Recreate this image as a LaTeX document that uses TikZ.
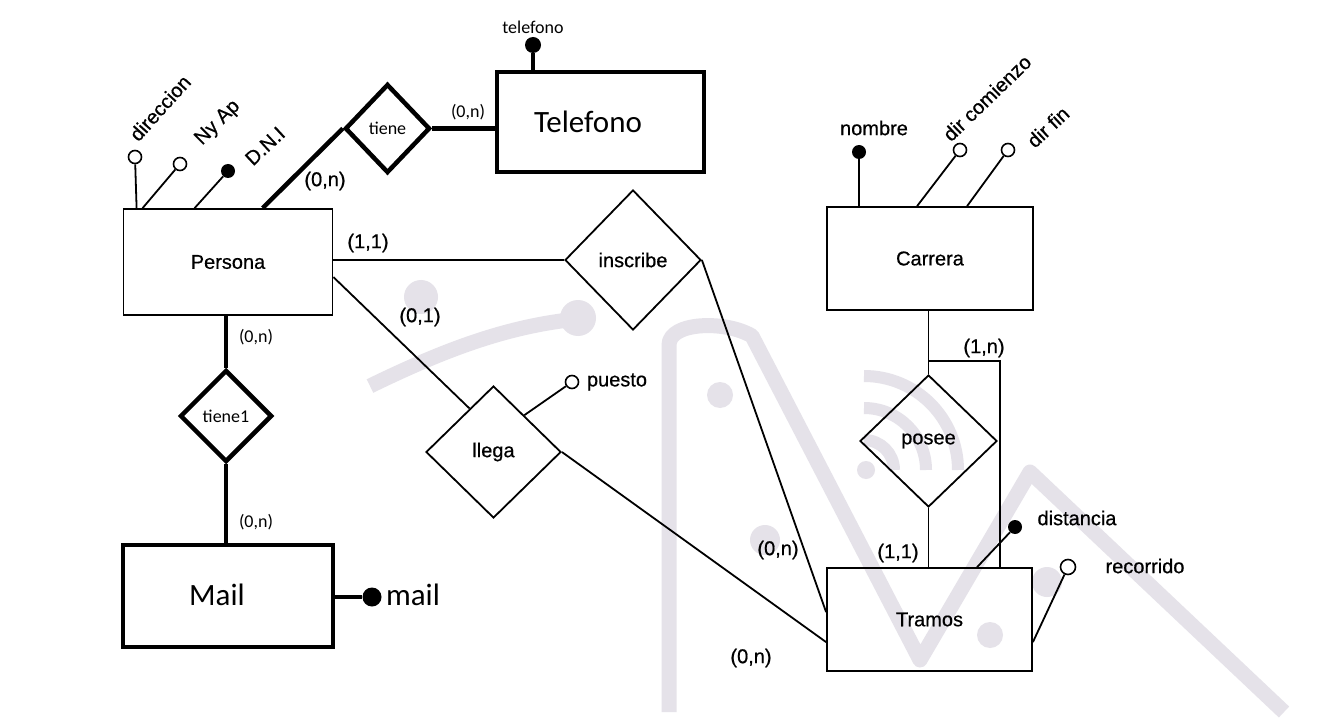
\documentclass[tikz,border=0pt]{standalone}
\usepackage{fontspec}
\setmainfont{Liberation Sans}
\newfontfamily\scanfont{Liberation Sans}[FakeBold=0.6]
\newfontfamily\calib{Carlito}
\usetikzlibrary{shapes.geometric,calc}
\definecolor{wm}{RGB}{229,226,233}
\begin{document}
\begin{tikzpicture}[x=1pt,y=-1pt,
  thin ln/.style={line width=1.8pt},
  thick ln/.style={line width=4.5pt},
  ent/.style={draw,thin ln,rectangle,inner sep=0pt,font=\scanfont\fontsize{20}{23}\selectfont},
  entb/.style={draw,thick ln,rectangle,inner sep=0pt},
  rel/.style={draw,thin ln,diamond,aspect=1,inner sep=0pt,font=\scanfont\fontsize{20}{23}\selectfont},
  relb/.style={draw,thick ln,diamond,aspect=1,inner sep=0pt,font=\calib\fontsize{18}{22}\selectfont},
  ocirc/.style={circle,draw,line width=1.6pt,fill=white,minimum size=13pt,inner sep=0pt},
  kdot/.style={circle,fill=black,minimum size=14pt,inner sep=0pt},
  lbl/.style={font=\scanfont\fontsize{20}{23}\selectfont,inner sep=0pt},
  clbl/.style={font=\calib\fontsize{18}{22}\selectfont,inner sep=0pt},
  biglbl/.style={font=\calib\fontsize{31}{36}\selectfont,inner sep=0pt},
  wmline/.style={draw=wm,line width=15pt},
]
\useasboundingbox (0,0) rectangle (1338,727);
\fill[white] (0,0) rectangle (1338,727);

% faint watermark
\draw[wmline] (370,386) .. controls (440,352) and (505,326) .. (578,319);
\fill[wm] (578,318) circle[radius=18pt];
\fill[wm] (421,297) circle[radius=17pt];
\draw[wmline,line join=round] (669,712) -- (669,345) .. controls (669,322) and (725,320) .. (752,336) -- (920,660) -- (1030,472) -- (1284,712);
\draw[wm,line width=12pt] (894,470) arc[start angle=0,end angle=90,radius=30pt];
\draw[wm,line width=12pt] (926,470) arc[start angle=0,end angle=90,radius=62pt];
\draw[wm,line width=12pt] (958,470) arc[start angle=0,end angle=90,radius=94pt];
\fill[wm] (866,470) circle[radius=9pt];
\fill[wm] (720,395) circle[radius=13pt];
\fill[wm] (765,540) circle[radius=15pt];
\fill[wm] (1047,582) circle[radius=15pt];
\fill[wm] (990,635) circle[radius=13pt];

% entities
\node[ent,minimum width=209pt,minimum height=106pt] (persona) at (228,262) {Persona};
\node[ent,minimum width=206pt,minimum height=103pt] (carrera) at (930,258.5) {Carrera};
\node[ent,minimum width=205pt,minimum height=103pt] (tramos) at (929.5,619.5) {Tramos};
\node[entb,minimum width=207pt,minimum height=100pt] (telefono) at (600.5,122) {};
\node[biglbl] (telefonoT) at (588,122) {Telefono};
\node[entb,minimum width=210pt,minimum height=102pt] (mail) at (228,596) {};
\node[biglbl] (mailT) at (217,595) {Mail};

% relationships
\node[rel,minimum width=136pt,minimum height=140pt] (inscribe) at (633,260) {inscribe};
\node[rel,minimum width=135pt,minimum height=132pt] (llega) at (493.5,452) {llega};
\node[rel,minimum width=137pt,minimum height=132pt] (posee) at (928.5,441) {posee};
\node[relb,minimum width=85pt,minimum height=89pt] (tiene) at (387.5,128.5) {tiene};
\node[relb,minimum width=92pt,minimum height=92pt] (tiene1) at (226,416) {tiene1};

% attribute markers
\node[ocirc] (adir) at (135,157) {};
\node[ocirc] (anyap) at (180,164) {};
\node[kdot] (adni) at (228,171) {};
\node[kdot,minimum size=16pt] (atel) at (533,45) {};
\node[kdot] (anombre) at (859,152) {};
\node[ocirc] (adircom) at (960,150) {};
\node[ocirc] (adirfin) at (1008,150) {};
\node[ocirc] (apuesto) at (572,382) {};
\node[kdot] (adist) at (1015,527) {};
\node[ocirc,minimum size=15pt] (arec) at (1068,567) {};
\node[kdot,minimum size=19pt] (amail) at (372,597) {};

% attribute labels
\node[lbl,rotate=48] (ldir) at (160,108) {direccion};
\node[lbl,rotate=45] (lnyap) at (218,123) {Ny Ap};
\node[lbl,rotate=43] (ldni) at (265,146) {D.N.I};
\node[clbl] (ltel) at (533,27) {telefono};
\node[lbl] (lnombre) at (874,128) {nombre};
\node[lbl,rotate=44] (ldircom) at (987,98) {dir comienzo};
\node[lbl,rotate=43] (ldirfin) at (1048,127) {dir fin};
\node[lbl] (lpuesto) at (617,382) {puesto};
\node[lbl] (ldist) at (1077,518) {distancia};
\node[lbl] (lrec) at (1145,566) {recorrido};
\node[biglbl] (lmail) at (413,595) {mail};

% cardinalities
\node[clbl] (c1) at (468,112) {(0,n)};
\node[lbl] (c2) at (325,181) {(0,n)};
\node[lbl] (c3) at (368,243) {(1,1)};
\node[lbl] (c4) at (420,317) {(0,1)};
\node[lbl] (c5) at (778,550) {(0,n)};
\node[lbl] (c6) at (751,658) {(0,n)};
\node[lbl] (c7) at (898,553) {(1,1)};
\node[lbl] (c8) at (984,348) {(1,n)};
\node[clbl] (c9) at (256,337) {(0,n)};
\node[clbl] (c10) at (256,522) {(0,n)};

% connectors
\draw[thick ln] ([xshift=140pt]persona.north west) -- (tiene.west);
\draw[thick ln] (tiene.east) -- (tiene.east -| telefono.west);
\draw[thick ln] (atel) -- (atel |- telefono.north);
\draw[thin ln] (inscribe.west -| persona.east) -- (inscribe.west);
\draw[thin ln] ([yshift=-69pt]persona.north east) -- ($(llega.west)!0.65!(llega.north)$);
\draw[thin ln] (inscribe.east) -- ([yshift=-45pt]tramos.north west);
\draw[thin ln] (llega.east) -- ([yshift=-75pt]tramos.north west);
\draw[thin ln] (apuesto) -- ($(llega.north)!0.45!(llega.east)$);
\draw[thin ln] (posee.north |- carrera.south) -- (posee.north);
\draw[thin ln] ([yshift=13pt]posee.north) -| ([xshift=70.5pt]tramos.north);
\draw[thin ln] (posee.south) -- (posee.south |- tramos.north);
\draw[thick ln] (tiene1.north |- persona.south) -- (tiene1.north);
\draw[thick ln] (tiene1.south) -- (tiene1.south |- mail.north);
\draw[thick ln] (mail.east |- amail) -- (amail);

\draw[thin ln] (adir) -- ([xshift=14pt]persona.north west);
\draw[thin ln] (anyap) -- ([xshift=20pt]persona.north west);
\draw[thin ln] (adni) -- ([xshift=72pt]persona.north west);
\draw[thin ln] (anombre) -- (anombre |- carrera.north);
\draw[thin ln] (adircom) -- ([xshift=91pt]carrera.north west);
\draw[thin ln] (adirfin) -- ([xshift=141pt]carrera.north west);
\draw[thin ln] (adist) -- ([xshift=151pt]tramos.north west);
\draw[thin ln] (arec) -- ([yshift=-75pt]tramos.north east);
\end{tikzpicture}
\end{document}
